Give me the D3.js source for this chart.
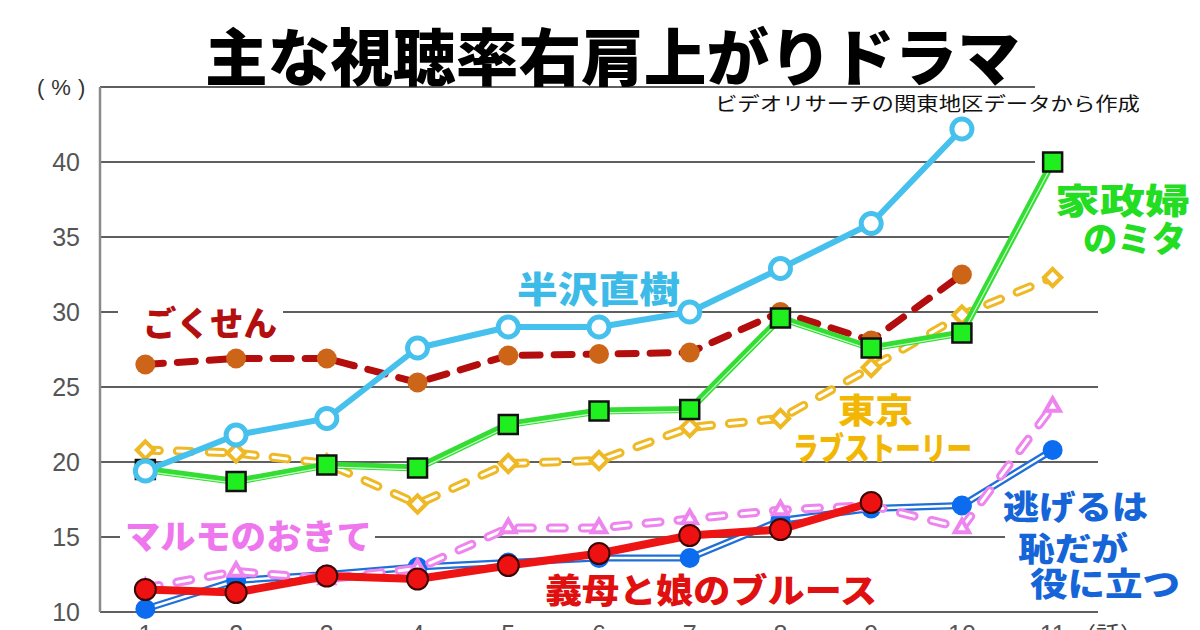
<!DOCTYPE html>
<html><head><meta charset="utf-8">
<script src="https://cdn.jsdelivr.net/npm/d3@7/dist/d3.min.js"></script>
<style>html,body{margin:0;padding:0;background:#fff;}svg{display:block;}</style>
</head><body>
<svg id="chart" width="1200" height="630"></svg>
<script>
// ---- data ----
const episodes = [1,2,3,4,5,6,7,8,9,10,11];
const yTicks = [10,15,20,25,30,35,40];
const yGrid = [10,15,20,25,30,35,40,45];
const hanzawa  = [19.4,21.8,22.9,27.6,29.0,29.0,30.0,32.9,35.9,42.2];
const gokusen  = [26.5,26.9,26.9,25.3,27.1,27.2,27.3,30.0,28.1,32.5];
const tokyo    = [20.8,20.6,19.9,17.2,19.9,20.1,22.3,22.9,26.3,29.8,32.3];
const mita     = [19.5,18.7,19.8,19.6,22.5,23.4,23.5,29.6,27.6,28.6,40.0];
const marumo   = [11.6,12.7,12.2,12.9,15.6,15.6,16.2,16.8,17.1,15.6,23.7];
const nigehaji = [10.2,12.1,12.5,13.0,13.3,13.6,13.6,16.1,16.9,17.1,20.8];
const gibo     = [11.5,11.3,12.4,12.2,13.1,13.9,15.1,15.5,17.3];

const svg = d3.select('#chart');
const x = d3.scaleLinear().domain([0.5,11.5]).range([100,1098]);
const y = d3.scaleLinear().domain([10,45]).range([612,87]);
const JP = "'Noto Sans CJK JP','Noto Sans CJK SC',sans-serif";

// gridlines
svg.append('g').selectAll('line').data(yGrid).join('line')
  .attr('x1',x(0.5)).attr('x2',x(11.5)).attr('y1',d=>y(d)).attr('y2',d=>y(d))
  .attr('stroke','#2a2a2a').attr('stroke-width',1.4);
// y axis line
svg.append('line').attr('x1',x(0.5)).attr('x2',x(0.5)).attr('y1',y(45)).attr('y2',y(10))
  .attr('stroke','#8a8a8a').attr('stroke-width',2.5);
// y tick labels
svg.append('g').selectAll('text').data(yTicks).join('text')
  .attr('x',80).attr('y',d=>y(d)).attr('dy','0.36em').attr('text-anchor','end')
  .attr('font-family','Liberation Sans, Arial, sans-serif').attr('font-size',25)
  .attr('fill','#555').text(d=>d);
svg.append('text').attr('x',37).attr('y',95)
  .attr('letter-spacing',7)
  .attr('font-family','Liberation Sans, Arial, sans-serif').attr('font-size',22).attr('fill','#333').text('(%)');
// x tick labels (mostly cut off at the bottom)
svg.append('g').selectAll('text').data(episodes).join('text')
  .attr('x',d=>x(d)).attr('y',643).attr('text-anchor','middle')
  .attr('font-family','Liberation Sans, Arial, sans-serif').attr('font-size',25)
  .attr('fill','#555').text(d=>d);
svg.append('text').attr('x',1108).attr('y',644).attr('text-anchor','middle')
  .attr('font-family',JP).attr('font-size',24).attr('fill','#444').text('（話）');

// label backgrounds (white boxes that interrupt gridlines)
const bgBoxes = [[1035,80,165,110],[1013,190,187,70],[118,300,165,45],[120,515,255,40],[1005,485,195,120]];
svg.append('g').selectAll('rect').data(bgBoxes).join('rect')
  .attr('x',d=>d[0]).attr('y',d=>d[1]).attr('width',d=>d[2]).attr('height',d=>d[3]).attr('fill','#fff');

const line = d3.line().x((d,i)=>x(episodes[i])).y(d=>y(d));
const g = svg.append('g');

// Tokyo Love Story: yellow double dashed, hollow diamonds
function doubleDash(data,color){
  g.append('path').attr('d',line(data)).attr('fill','none').attr('stroke',color)
   .attr('stroke-width',9).attr('stroke-dasharray','14,18').attr('stroke-linecap','round');
  g.append('path').attr('d',line(data)).attr('fill','none').attr('stroke','#fff')
   .attr('stroke-width',3).attr('stroke-dasharray','14,18').attr('stroke-linecap','round');
}
doubleDash(tokyo,'#efb925');
g.append('g').selectAll('path').data(tokyo).join('path')
  .attr('d',d3.symbol(d3.symbolDiamond2,190)).attr('transform',(d,i)=>`translate(${x(episodes[i])},${y(d)})`)
  .attr('fill','#fff').attr('stroke','#efb925').attr('stroke-width',4);

// Gokusen: dark red dashed, brown dots
g.append('path').attr('d',line(gokusen)).attr('fill','none').attr('stroke','#b30d0d')
  .attr('stroke-width',7).attr('stroke-dasharray','18,14').attr('stroke-linecap','round');
g.append('g').selectAll('circle').data(gokusen).join('circle')
  .attr('cx',(d,i)=>x(episodes[i])).attr('cy',d=>y(d)).attr('r',10).attr('fill','#cc6518');

// Mita: green thick line, green squares
g.append('path').attr('d',line(mita)).attr('fill','none').attr('stroke','#33dd33').attr('stroke-width',7).attr('stroke-linejoin','round');
g.append('path').attr('d',line(mita)).attr('fill','none').attr('stroke','#c8ffc8').attr('stroke-width',1.2)
  .attr('transform','translate(0,1.8)');
g.append('g').selectAll('rect').data(mita).join('rect')
  .attr('x',(d,i)=>x(episodes[i])-9.5).attr('y',d=>y(d)-9.5).attr('width',19).attr('height',19)
  .attr('fill','#1fee1f').attr('stroke','#111').attr('stroke-width',2.5);

// Nigehaji: blue double line, blue dots
g.append('path').attr('d',line(nigehaji)).attr('fill','none').attr('stroke','#1e6fd8').attr('stroke-width',7);
g.append('path').attr('d',line(nigehaji)).attr('fill','none').attr('stroke','#fff').attr('stroke-width',2.4);
g.append('g').selectAll('circle').data(nigehaji).join('circle')
  .attr('cx',(d,i)=>x(episodes[i])).attr('cy',d=>y(d)).attr('r',10).attr('fill','#0c6cf0');

// Marumo: pink double dashed, hollow triangles
doubleDash(marumo,'#ee84ee');
g.append('g').selectAll('path.tri').data(marumo).join('path')
  .attr('d',d3.symbol(d3.symbolTriangle2,150)).attr('transform',(d,i)=>`translate(${x(episodes[i])},${y(d)})`)
  .attr('fill','#fff').attr('stroke','#ee84ee').attr('stroke-width',4);

// Gibo: red thick line, red dots with dark outline
g.append('path').attr('d',line(gibo)).attr('fill','none').attr('stroke','#ee1414').attr('stroke-width',8).attr('stroke-linejoin','round');
g.append('g').selectAll('circle').data(gibo).join('circle')
  .attr('cx',(d,i)=>x(episodes[i])).attr('cy',d=>y(d)).attr('r',10.5).attr('fill','#ee1111')
  .attr('stroke','#3a0505').attr('stroke-width',2);

// Hanzawa: light blue line, hollow circles
g.append('path').attr('d',line(hanzawa)).attr('fill','none').attr('stroke','#46c0ec').attr('stroke-width',6).attr('stroke-linejoin','round');
g.append('g').selectAll('circle').data(hanzawa).join('circle')
  .attr('cx',(d,i)=>x(episodes[i])).attr('cy',d=>y(d)).attr('r',10).attr('fill','#fff')
  .attr('stroke','#46c0ec').attr('stroke-width',5);

// series labels
const labels = [
  ['半沢直樹',517,680,287,36,'#3dbbe8'],
  ['ごくせん',143,277,321,34,'#b30f0f'],
  ['東京',838,913,408,34,'#f2b705'],
  ['ラブストーリー',793,972,446,32,'#f2b705'],
  ['家政婦',1055,1190,198,35,'#22dd22'],
  ['のミタ',1083,1186,236,35,'#22dd22'],
  ['マルモのおきて',125,372,534,34,'#ee77ee'],
  ['義母と娘のブルース',545,877,588,34,'#e01010'],
  ['逃げるは',1003,1148,505,33,'#1565d8'],
  ['恥だが',1018,1128,547,33,'#1565d8'],
  ['役に立つ',1030,1180,582,33,'#1565d8']
];
svg.append('g').selectAll('text').data(labels).join('text')
  .attr('x',d=>d[1]).attr('y',d=>d[3]).attr('dominant-baseline','central')
  .attr('textLength',d=>d[2]-d[1]).attr('lengthAdjust','spacingAndGlyphs')
  .attr('font-family',JP).attr('font-weight',900).attr('font-size',d=>d[4])
  .attr('fill',d=>d[5]).text(d=>d[0]);

// title & subtitle
svg.append('text').attr('x',205).attr('y',54).attr('dominant-baseline','central')
  .attr('textLength',815).attr('lengthAdjust','spacingAndGlyphs')
  .attr('font-family',JP).attr('font-weight',900).attr('font-size',62).attr('fill','#000')
  .text('主な視聴率右肩上がりドラマ');
svg.append('text').attr('x',715).attr('y',102).attr('dominant-baseline','central')
  .attr('textLength',425).attr('lengthAdjust','spacingAndGlyphs')
  .attr('font-family',JP).attr('font-size',19).attr('fill','#111')
  .text('ビデオリサーチの関東地区データから作成');
</script>
</body></html>
